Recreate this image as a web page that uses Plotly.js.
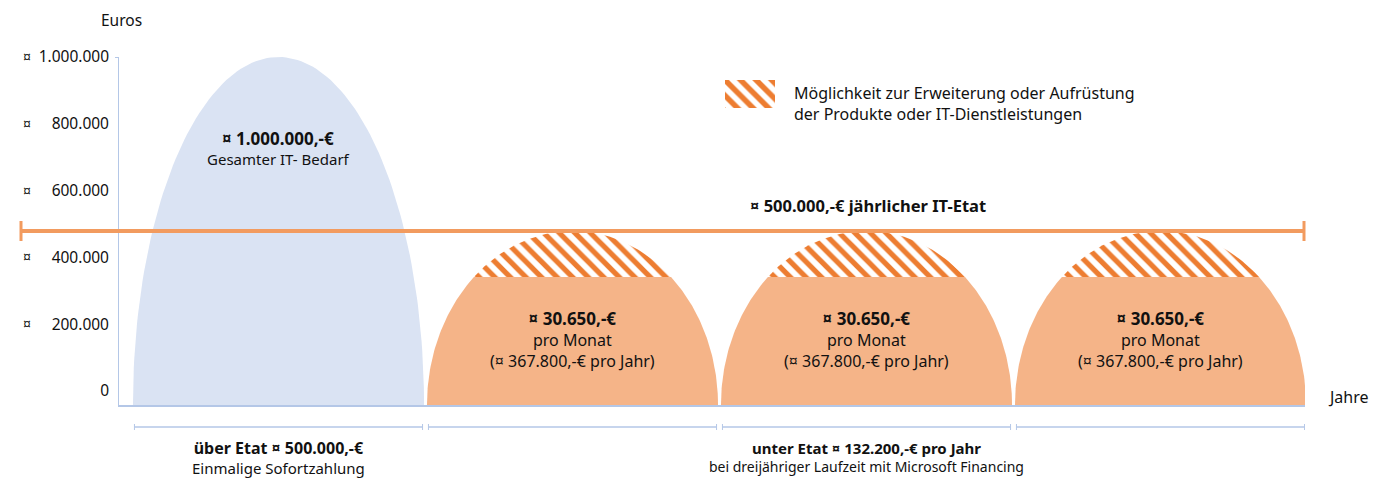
<!DOCTYPE html>
<html>
<head>
<meta charset="utf-8">
<script src="https://cdn.plot.ly/plotly-3.0.1.min.js"></script>
<style>html,body{margin:0;padding:0;background:#fff}#chart{width:1386px;height:480px}</style>
</head>
<body>
<div id="chart"></div>
<script>
// ---------- data ----------
const periods = ['Sofortzahlung', 'Jahr 1', 'Jahr 2', 'Jahr 3'];
const periodX = [0, 1, 2, 3];
const humpValues = [1000000, 500000, 500000, 500000];
const annualCost = [null, 367800, 367800, 367800];
const budget = 500000;
const humpTitles = ['¤ 1.000.000,-€', '¤ 30.650,-€', '¤ 30.650,-€', '¤ 30.650,-€'];
const humpSubtitles = ['Gesamter IT- Bedarf', 'pro Monat<br>(¤ 367.800,-€ pro Jahr)', 'pro Monat<br>(¤ 367.800,-€ pro Jahr)', 'pro Monat<br>(¤ 367.800,-€ pro Jahr)'];
const yTickVals = [0, 200000, 400000, 600000, 800000, 1000000];
const yTickText = ['0', '200.000', '400.000', '600.000', '800.000', '1.000.000'];
const yCurrency = ['', '¤', '¤', '¤', '¤', '¤'];
const budgetLabel = '¤ 500.000,-€ jährlicher IT-Etat';
const groupLabels = [
  {title: 'über Etat ¤ 500.000,-€', sub: 'Einmalige Sofortzahlung', periods: [0]},
  {title: 'unter Etat ¤ 132.200,-€ pro Jahr', sub: 'bei dreijähriger Laufzeit mit Microsoft Financing', periods: [1, 2, 3]}
];
const legendText = 'Möglichkeit zur Erweiterung oder Aufrüstung<br>der Produkte oder IT-Dienstleistungen';

// ---------- style ----------
const W = 1386, H = 480;
const px = v => v / W, py = v => (H - v) / H;
const FONT = 'Noto Sans, Open Sans, sans-serif';
const TXT = '#111';
const BLUE = '#DAE3F3', ORANGE_LIGHT = '#F5B488', ORANGE = '#ED7D31', LINE_ORANGE = '#F29B5F', AXIS = '#B4C7E7';
const HW = 0.495;

function arc(c, h, t0, t1, n) {
  const xs = [], ys = [];
  for (let i = 0; i <= n; i++) {
    const t = t0 + (t1 - t0) * i / n;
    xs.push(c - HW * Math.cos(t));
    ys.push(h * Math.sin(t));
  }
  return {xs, ys};
}

const traces = [];
periodX.forEach((c, i) => {
  const h = humpValues[i];
  const cut = annualCost[i];
  if (cut == null) {
    const a = arc(c, h, 0, Math.PI, 120);
    traces.push({type: 'scatter', x: a.xs, y: a.ys, mode: 'lines', fill: 'toself', fillcolor: BLUE,
      line: {width: 0, color: BLUE}, hoverinfo: 'skip', name: periods[i]});
  } else {
    const tc = Math.asin(cut / h);
    const a1 = arc(c, h, 0, tc, 60), a2 = arc(c, h, Math.PI - tc, Math.PI, 60);
    traces.push({type: 'scatter', x: a1.xs.concat(a2.xs), y: a1.ys.concat(a2.ys), mode: 'lines', fill: 'toself',
      fillcolor: ORANGE_LIGHT, line: {width: 0, color: ORANGE_LIGHT}, hoverinfo: 'skip', name: periods[i]});
    const a3 = arc(c, h, tc, Math.PI - tc, 80);
    traces.push({type: 'scatter', x: a3.xs, y: a3.ys, mode: 'lines', fill: 'toself', fillcolor: 'white',
      fillpattern: {shape: '\\', fgcolor: ORANGE, bgcolor: 'white', size: 11, solidity: 0.48},
      line: {width: 0, color: 'white'}, hoverinfo: 'skip', name: periods[i] + ' Erweiterung'});
  }
});
// label axes (ticks only)
traces.push({type: 'scatter', x: [], y: [], yaxis: 'y2', hoverinfo: 'skip'});
traces.push({type: 'scatter', x: [], y: [], yaxis: 'y3', hoverinfo: 'skip'});
// legend swatch
traces.push({type: 'bar', x: [0], y: [1], width: [1], xaxis: 'x2', yaxis: 'y4', hoverinfo: 'skip',
  marker: {color: 'white', line: {width: 0},
    pattern: {shape: '\\', fgcolor: ORANGE, bgcolor: 'white', size: 11, solidity: 0.5}}});

const labelRange = [-41916, 1000100];

const shapes = [
  {type: 'line', xref: 'paper', yref: 'y', x0: px(20), x1: px(1305), y0: budget, y1: budget,
    line: {color: LINE_ORANGE, width: 4}},
  {type: 'line', xref: 'paper', yref: 'y', ysizemode: 'pixel', yanchor: budget, x0: px(21), x1: px(21), y0: -10, y1: 10,
    line: {color: LINE_ORANGE, width: 3}},
  {type: 'line', xref: 'paper', yref: 'y', ysizemode: 'pixel', yanchor: budget, x0: px(1304), x1: px(1304), y0: -10, y1: 10,
    line: {color: LINE_ORANGE, width: 3}}
];
periodX.forEach(c => {
  const yb = py(427), d = 3 / H;
  shapes.push({type: 'line', xref: 'x', yref: 'paper', x0: c - 0.49, x1: c + 0.49, y0: yb, y1: yb, line: {color: AXIS, width: 1.5}});
  shapes.push({type: 'line', xref: 'x', yref: 'paper', x0: c - 0.49, x1: c - 0.49, y0: yb - d, y1: yb + d, line: {color: AXIS, width: 1}});
  shapes.push({type: 'line', xref: 'x', yref: 'paper', x0: c + 0.49, x1: c + 0.49, y0: yb - d, y1: yb + d, line: {color: AXIS, width: 1}});
});

const annotations = [];
periodX.forEach((c, i) => {
  annotations.push({xref: 'x', yref: 'paper', x: c, y: i === 0 ? py(148) : py(340), xanchor: 'center', yanchor: 'middle',
    text: '<b><span style="font-size:17px">' + humpTitles[i] + '</span></b><br>' + humpSubtitles[i],
    showarrow: false, align: 'center',
    font: {family: FONT, size: i === 0 ? 15 : 16, color: TXT}});
});
annotations.push({xref: 'paper', yref: 'y', x: px(868), y: budget, yshift: 26, xanchor: 'center', yanchor: 'middle',
  text: '<b>' + budgetLabel + '</b>', showarrow: false, font: {family: FONT, size: 16.5, color: TXT}});
groupLabels.forEach((g, k) => {
  const cx = g.periods.reduce((s, p) => s + periodX[p], 0) / g.periods.length;
  const bs = k === 0 ? 16 : 15;
  annotations.push({xref: 'x', yref: 'paper', x: cx, y: py(457), xanchor: 'center', yanchor: 'middle',
    text: '<b><span style="font-size:' + bs + 'px">' + g.title + '</span></b><br>' + g.sub, showarrow: false, align: 'center',
    font: {family: FONT, size: k === 0 ? 15 : 14, color: TXT}});
});
annotations.push({xref: 'paper', yref: 'paper', x: px(1348), y: py(397), xanchor: 'center', yanchor: 'middle',
  text: 'Jahre', showarrow: false, font: {family: FONT, size: 16, color: TXT}});
annotations.push({xref: 'paper', yref: 'paper', x: px(122), y: py(20), xanchor: 'center', yanchor: 'middle',
  text: 'Euros', showarrow: false, font: {family: FONT, size: 15.5, color: TXT}});
annotations.push({xref: 'paper', yref: 'paper', x: px(792), y: py(103), xanchor: 'left', yanchor: 'middle', align: 'left',
  text: legendText, showarrow: false, font: {family: FONT, size: 16, color: TXT}});

const layout = {
  width: W, height: H,
  margin: {l: 0, r: 0, t: 0, b: 0, pad: 0},
  paper_bgcolor: 'white', plot_bgcolor: 'rgba(0,0,0,0)',
  showlegend: false,
  font: {family: FONT, size: 14, color: TXT},
  xaxis: {domain: [px(119), px(1305)], range: [-0.5425, 3.4915], showline: true, linecolor: AXIS, linewidth: 1.5,
    showgrid: false, zeroline: false, showticklabels: false, ticks: '', fixedrange: true},
  yaxis: {domain: [py(405), py(57)], range: [0, 1000000], showline: true, linecolor: AXIS, linewidth: 1.5,
    showgrid: false, zeroline: false, showticklabels: false, tickvals: [1000000], ticks: 'outside', ticklen: 3,
    tickcolor: AXIS, fixedrange: true},
  yaxis2: {overlaying: 'y', anchor: 'free', position: px(109), side: 'left', range: labelRange,
    tickvals: yTickVals, ticktext: yTickText, showline: false, showgrid: false, zeroline: false, ticks: '',
    tickfont: {family: FONT, size: 15.5, color: TXT}, fixedrange: true},
  yaxis3: {overlaying: 'y', anchor: 'free', position: px(31), side: 'left', range: labelRange,
    tickvals: yTickVals, ticktext: yCurrency, showline: false, showgrid: false, zeroline: false, ticks: '',
    tickfont: {family: FONT, size: 14, color: TXT}, fixedrange: true},
  xaxis2: {domain: [px(725), px(775)], anchor: 'y4', range: [-0.5, 0.5], visible: false, fixedrange: true},
  yaxis4: {domain: [py(108), py(80)], anchor: 'x2', range: [0, 1], visible: false, fixedrange: true},
  shapes: shapes,
  annotations: annotations
};

Plotly.newPlot('chart', traces, layout, {staticPlot: true, displayModeBar: false});
</script>
</body>
</html>
